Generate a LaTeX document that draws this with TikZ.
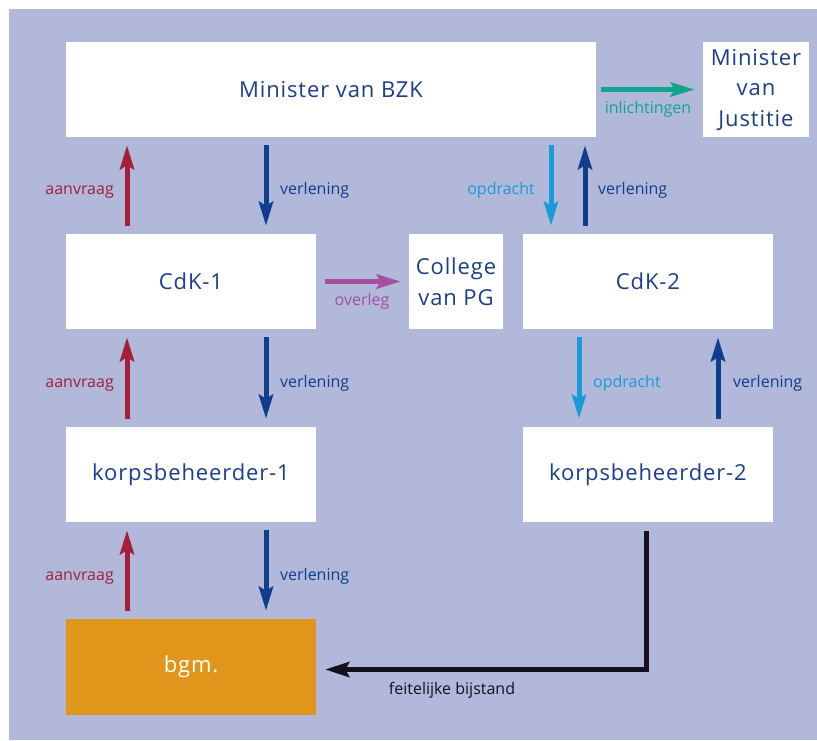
\documentclass[tikz,border=0pt]{standalone}
\usepackage{fontspec}
\setmainfont{Open Sans}
\newfontfamily\actorfont[LetterSpace=4]{Open Sans}
\usetikzlibrary{arrows.meta}

\definecolor{bgpanel}{HTML}{B1B8DA}
\definecolor{boxtext}{HTML}{1C3F8C}
\definecolor{reqred}{HTML}{A31F3A}
\definecolor{grantblue}{HTML}{0F3F8C}
\definecolor{orderblue}{HTML}{1A9BD7}
\definecolor{infoteal}{HTML}{12A58A}
\definecolor{consultpurple}{HTML}{A64FA0}
\definecolor{mayororange}{HTML}{E0961A}
\definecolor{assistblack}{HTML}{14101F}

\tikzset{
  actor/.style={fill=white, draw=none, inner sep=0pt, text=boxtext,
    font=\actorfont\fontsize{22}{30.5}\selectfont, align=center},
  wide/.style={actor, minimum width=250pt, minimum height=95pt},
  narrow/.style={actor, minimum height=95pt},
  lbl/.style={inner sep=0pt, font=\fontsize{16}{19}\selectfont},
  flow/.style={line width=5pt, -{Stealth[length=24pt,width=14pt,inset=4pt]},
    shorten >=8pt, shorten <=8pt},
}

\begin{document}
\begin{tikzpicture}[x=1pt, y=-1pt]
  \useasboundingbox (0,0) rectangle (817,740);
  \fill[bgpanel] (9,9) rectangle (817,740);

  % actors
  \node[actor, minimum width=530pt, minimum height=95pt] (bzk) at (331,89.5) {Minister van BZK};
  \node[narrow, minimum width=106pt] (jus) at (756,89.5) {Minister\\van\\Justitie};
  \node[wide] (cdk1) at (191,281.5) {CdK-1};
  \node[narrow, minimum width=94pt] (pg) at (456,281.5) {College\\van PG};
  \node[wide] (cdk2) at (648,281.5) {CdK-2};
  \node[wide] (kb1) at (191,474.5) {korpsbeheerder-1};
  \node[wide] (kb2) at (648,474.5) {korpsbeheerder-2};
  \node[wide, fill=mayororange, text=white, minimum height=96pt] (bgm) at (191,667) {bgm.};

  % left column: requests up, extensions down
  \draw[flow, reqred] (cdk1.north -| 127,0) -- (bzk.south -| 127,0);
  \draw[flow, grantblue] (bzk.south -| 266,0) -- (cdk1.north -| 266,0);
  \draw[flow, reqred] (kb1.north -| 127,0) -- (cdk1.south -| 127,0);
  \draw[flow, grantblue] (cdk1.south -| 266,0) -- (kb1.north -| 266,0);
  \draw[flow, reqred] (bgm.north -| 127,0) -- (kb1.south -| 127,0);
  \draw[flow, grantblue] (kb1.south -| 266,0) -- (bgm.north -| 266,0);

  \node[lbl, text=reqred, anchor=base east] (a1) at (114,194) {aanvraag};
  \node[lbl, text=grantblue, anchor=base west] (v1) at (280,194) {verlening};
  \node[lbl, text=reqred, anchor=base east] (a2) at (114,387) {aanvraag};
  \node[lbl, text=grantblue, anchor=base west] (v2) at (280,387) {verlening};
  \node[lbl, text=reqred, anchor=base east] (a3) at (114,580) {aanvraag};
  \node[lbl, text=grantblue, anchor=base west] (v3) at (280,580) {verlening};

  % right column: orders down, extensions up
  \draw[flow, orderblue] (bzk.south -| 551,0) -- (cdk2.north -| 551,0);
  \draw[flow, grantblue] (cdk2.north -| 585,0) -- (bzk.south -| 585,0);
  \draw[flow, orderblue] (cdk2.south -| 579,0) -- (kb2.north -| 579,0);
  \draw[flow, grantblue] (kb2.north -| 718,0) -- (cdk2.south -| 718,0);

  \node[lbl, text=orderblue, anchor=base east] (o1) at (535,194) {opdracht};
  \node[lbl, text=grantblue, anchor=base west] (v4) at (598,194) {verlening};
  \node[lbl, text=orderblue, anchor=base west] (o2) at (593,387) {opdracht};
  \node[lbl, text=grantblue, anchor=base west] (v5) at (733,387) {verlening};

  % horizontal flows
  \draw[flow, infoteal, shorten <=5pt] (bzk.east) -- (jus.west);
  \node[lbl, text=infoteal] (inf) at (648,109) {inlichtingen};
  \draw[flow, consultpurple, shorten <=9pt] (cdk1.east) -- (pg.west);
  \node[lbl, text=consultpurple] (ovl) at (362,301) {overleg};

  % factual assistance from korpsbeheerder-2 to the mayor
  \coordinate (bend) at (646,669.5);
  \draw[line width=5pt, assistblack, -{Stealth[length=24pt,width=15pt,inset=4pt]},
    shorten <=9pt, shorten >=9pt]
    (kb2.south -| bend) -- (bend) -- (bgm.east |- bend);
  \node[lbl, text=assistblack] (fb) at (452,690) {feitelijke bijstand};
\end{tikzpicture}
\end{document}
